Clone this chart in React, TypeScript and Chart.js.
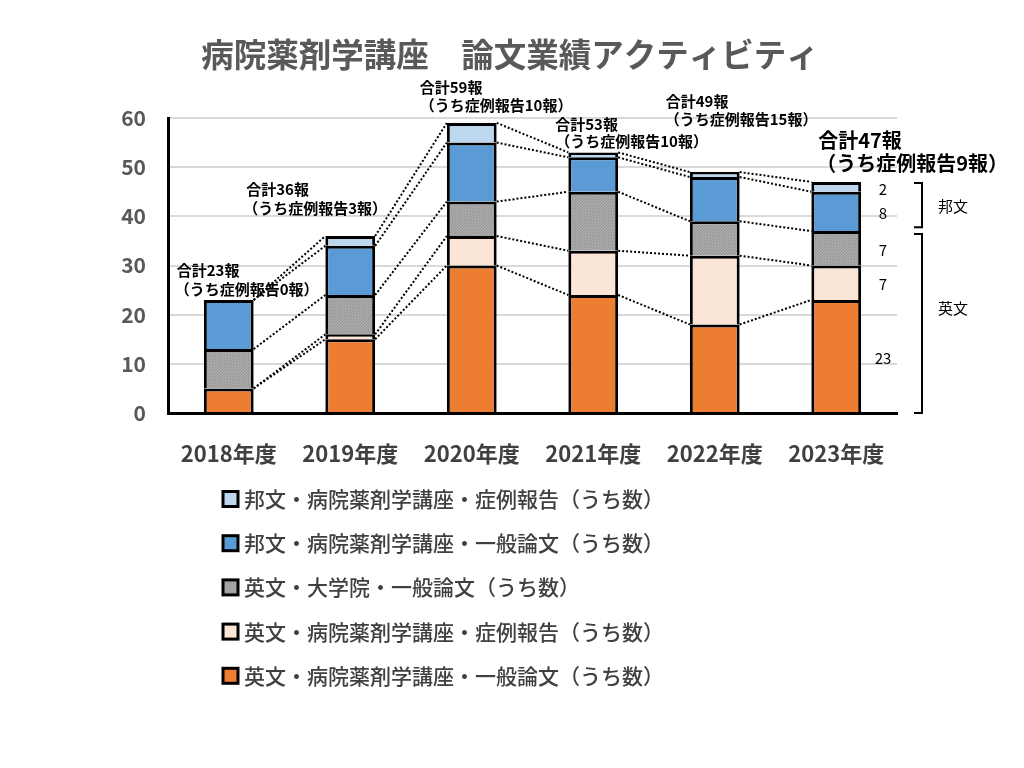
import React, { useEffect, useRef } from 'react';
import { Chart, registerables } from 'chart.js';

Chart.register(...registerables);

// ---- data ----
const categories = ['2018年度', '2019年度', '2020年度', '2021年度', '2022年度', '2023年度'];
const engGeneral = [5, 15, 30, 24, 18, 23];
const engCase = [0, 1, 6, 9, 14, 7];
const engGrad = [8, 8, 7, 12, 7, 7];
const jpGeneral = [10, 10, 12, 7, 9, 8];
const jpCase = [0, 2, 4, 1, 1, 2];
const seriesLabels = [
  '英文・病院薬剤学講座・一般論文（うち数）',
  '英文・病院薬剤学講座・症例報告（うち数）',
  '英文・大学院・一般論文（うち数）',
  '邦文・病院薬剤学講座・一般論文（うち数）',
  '邦文・病院薬剤学講座・症例報告（うち数）',
];
const yTickValues = [0, 10, 20, 30, 40, 50, 60];
const titleText = '病院薬剤学講座　論文業績アクティビティ';
const groupLabels = ['邦文', '英文'];

// ---- layout / style ----
const FONT = "'Noto Sans CJK JP', 'Noto Sans', sans-serif";
const colors = ['#ED7D31', '#FBE5D6', '#A6A6A6', '#5B9BD5', '#BDD7EE'];
// annotation offsets per bar: [dx line1, y line1, dx line2, y line2, font size]
const annotLayout = [
  [-52, 270, -54, 289, 15],
  [-104, 189, -107, 208, 15],
  [-52, 87, -52, 105, 15],
  [-38, 124, -38, 141, 15],
  [-49, 101, -50, 119, 15],
  [-18, 140, -20, 163, 20],
];
const bracketRanges = [
  [46.8, 37.8],
  [36.4, 0],
];

function makeGrayPattern(): CanvasPattern | string {
  const c = document.createElement('canvas');
  c.width = 3;
  c.height = 3;
  const g = c.getContext('2d');
  if (!g) return colors[2];
  g.fillStyle = '#a6a6a6';
  g.fillRect(0, 0, 3, 3);
  g.fillStyle = '#969696';
  [[0, 0], [2, 1], [1, 2]].forEach(([x, y]) => g.fillRect(x, y, 1, 1));
  g.fillStyle = '#b2b2b2';
  [[1, 0], [0, 2]].forEach(([x, y]) => g.fillRect(x, y, 1, 1));
  const p = g.createPattern(c, 'repeat');
  return p || colors[2];
}

export default function App() {
  const ref = useRef<HTMLCanvasElement | null>(null);

  useEffect(() => {
    document.body.style.margin = '0';
    const canvas = ref.current;
    if (!canvas) return;
    const gray = makeGrayPattern();
    const fills: any[] = [colors[0], colors[1], gray, colors[3], colors[4]];
    const series = [engGeneral, engCase, engGrad, jpGeneral, jpCase];

    const overlay = {
      id: 'overlay',
      beforeDatasetsDraw(chart: any) {
        const ctx = chart.ctx as CanvasRenderingContext2D;
        ctx.save();
        ctx.setLineDash([2, 2]);
        ctx.lineWidth = 2;
        ctx.strokeStyle = '#000';
        series.forEach((_, d) => {
          const meta = chart.getDatasetMeta(d);
          for (let i = 0; i < categories.length - 1; i++) {
            const a = meta.data[i] as any;
            const b = meta.data[i + 1] as any;
            ctx.beginPath();
            ctx.moveTo(a.x + a.width / 2, a.y);
            ctx.lineTo(b.x - b.width / 2, b.y);
            ctx.stroke();
          }
        });
        ctx.restore();
      },
      afterDraw(chart: any) {
        const ctx = chart.ctx as CanvasRenderingContext2D;
        const ys = chart.scales.y;
        ctx.save();
        // title
        ctx.fillStyle = '#595959';
        ctx.font = `bold 32.5px ${FONT}`;
        ctx.textAlign = 'center';
        ctx.textBaseline = 'middle';
        ctx.fillText(titleText, 510, 55);

        // totals annotations
        ctx.fillStyle = '#000';
        ctx.textAlign = 'left';
        categories.forEach((_, i) => {
          const total = series.reduce((s, arr) => s + arr[i], 0);
          const cases = engCase[i] + jpCase[i];
          const el = chart.getDatasetMeta(0).data[i] as any;
          const [dx1, y1, dx2, y2, fs] = annotLayout[i];
          ctx.font = `bold ${fs}px ${FONT}`;
          ctx.fillText(`合計${total}報`, el.x + dx1, y1);
          ctx.fillText(`（うち症例報告${cases}報）`, el.x + dx2, y2);
        });

        // right-side value labels for last bar
        const last = categories.length - 1;
        ctx.font = `15px ${FONT}`;
        ctx.textAlign = 'center';
        series.forEach((arr, d) => {
          const el = chart.getDatasetMeta(d).data[last] as any;
          ctx.fillText(String(arr[last]), 883, (el.y + el.base) / 2 + 2);
        });

        // brackets
        ctx.strokeStyle = '#000';
        ctx.lineWidth = 2;
        ctx.font = `15px ${FONT}`;
        bracketRanges.forEach(([top, bot], k) => {
          const yt = ys.getPixelForValue(top);
          const yb = ys.getPixelForValue(bot);
          ctx.beginPath();
          ctx.moveTo(914, yt);
          ctx.lineTo(922, yt);
          ctx.lineTo(922, yb);
          ctx.lineTo(914, yb);
          ctx.stroke();
          ctx.fillText(groupLabels[k], 953, k === 0 ? 206 : 308);
        });

        // legend (reverse order)
        ctx.textAlign = 'left';
        ctx.font = `500 21px ${FONT}`;
        for (let j = 0; j < 5; j++) {
          const d = 4 - j;
          const cy = 499 + j * 44.2;
          ctx.fillStyle = fills[d];
          ctx.fillRect(223, cy - 7.5, 15, 15);
          ctx.lineWidth = 3;
          ctx.strokeStyle = '#000';
          ctx.strokeRect(223, cy - 7.5, 15, 15);
          ctx.fillStyle = '#404040';
          ctx.fillText(seriesLabels[d], 244, cy);
        }
        ctx.restore();
      },
    };

    const chart = new Chart(canvas, {
      type: 'bar',
      data: {
        labels: categories,
        datasets: series.map((arr, d) => ({
          label: seriesLabels[d],
          data: arr,
          backgroundColor: fills[d],
          borderColor: '#000',
          borderWidth: 3,
          borderSkipped: 'start',
          barPercentage: 0.41,
          categoryPercentage: 1,
        })),
      },
      options: {
        responsive: false,
        animation: false,
        layout: { padding: { top: 118, right: 127, left: 0, bottom: 0 } },
        plugins: {
          legend: { display: false },
          tooltip: { enabled: false },
          title: { display: false },
        },
        scales: {
          x: {
            stacked: true,
            grid: { display: false, drawTicks: false },
            border: { display: true, color: '#000', width: 3 },
            ticks: {
              padding: 27,
              color: '#404040',
              font: { family: FONT, size: 22, weight: 'bold' },
            },
            afterFit: (s: any) => {
              s.height = 768 - 413;
            },
          },
          y: {
            stacked: true,
            min: 0,
            max: 60,
            afterBuildTicks: (s: any) => {
              s.ticks = yTickValues.map((v) => ({ value: v }));
            },
            grid: { color: '#d9d9d9', lineWidth: 2, drawTicks: false },
            border: { display: true, color: '#000', width: 3 },
            ticks: {
              padding: 22,
              color: '#595959',
              font: { family: FONT, size: 21, weight: 'bold' },
            },
            afterFit: (s: any) => {
              s.width = 168;
            },
          },
        },
      },
      plugins: [overlay],
    } as any);

    return () => chart.destroy();
  }, []);

  return (
    <div style={{ width: 1024, height: 768 }}>
      <canvas ref={ref} width={1024} height={768} />
    </div>
  );
}
